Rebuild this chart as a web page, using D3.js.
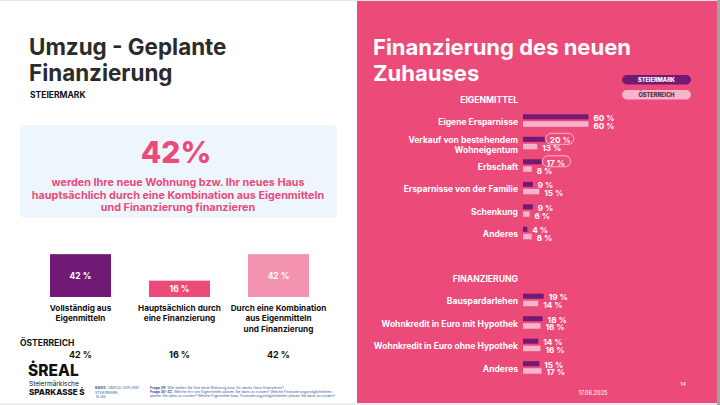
<!DOCTYPE html>
<html>
<head>
<meta charset="utf-8">
<script src="https://cdn.jsdelivr.net/npm/d3@7"></script>
<style>
  html, body { margin: 0; padding: 0; background: #fff; }
  svg { display: block; font-family: Inter, "Noto Sans", sans-serif; }
</style>
</head>
<body>
<svg id="chart" width="720" height="405"></svg>
<script>
// left panel: how the new home is financed
const shareCats = ["Vollständig aus\nEigenmitteln", "Hauptsächlich durch\neine Finanzierung", "Durch eine Kombination\naus Eigenmitteln\nund Finanzierung"];
const shareStmk = [42, 16, 42];
const shareOe = [42, 16, 42];
const shareColors = ["#701a75", "#ec4a79", "#f393b0"];

// right panel: Eigenmittel
const eigenCats = ["Eigene Ersparnisse", "Verkauf von bestehendem\nWohneigentum", "Erbschaft", "Ersparnisse von der Familie", "Schenkung", "Anderes"];
const eigenStmk = [60, 20, 17, 9, 9, 4];
const eigenOe = [60, 13, 8, 15, 6, 8];
const eigenMark = [false, true, true, false, false, false];

// right panel: Finanzierung
const finCats = ["Bauspardarlehen", "Wohnkredit in Euro mit Hypothek", "Wohnkredit in Euro ohne Hypothek", "Anderes"];
const finStmk = [19, 18, 14, 15];
const finOe = [14, 16, 16, 17];
const finMark = [false, false, false, false];

const PINK = "#ec4a79", PURPLE = "#701a75", LIGHT = "#f7b4cb", DARK = "#2b2b2b";

const svg = d3.select("#chart");

// backgrounds
svg.append("rect").attr("x", 357).attr("y", 0).attr("width", 363).attr("height", 405).attr("fill", PINK);
svg.append("rect").attr("x", 0).attr("y", 0).attr("width", 720).attr("height", 1).attr("fill", "#e6e6e6");
svg.append("rect").attr("x", 0).attr("y", 403).attr("width", 720).attr("height", 2).attr("fill", "#ececec");
svg.append("rect").attr("x", 717).attr("y", 0).attr("width", 3).attr("height", 405).attr("fill", "#a3a3a3");

function lines(sel, str, x, y, dy) {
  str.split("\n").forEach((t, i) => {
    sel.append("tspan").attr("x", x).attr("y", y + i * dy).text(t);
  });
}

// ---- left panel ----
const left = svg.append("g");
const t1 = left.append("text").attr("font-size", 22.4).attr("font-weight", 700).attr("fill", DARK);
lines(t1, "Umzug - Geplante\nFinanzierung", 29, 55, 25.5);
left.append("text").attr("x", 30).attr("y", 98).attr("font-size", 8.5).attr("font-weight", 700)
  .attr("fill", "#111").text("STEIERMARK");

left.append("rect").attr("x", 20).attr("y", 125).attr("width", 317).attr("height", 93).attr("rx", 5)
  .attr("fill", "#eef6fd");
left.append("text").attr("x", 176).attr("y", 163).attr("text-anchor", "middle").attr("font-size", 30)
  .attr("font-weight", 800).attr("fill", PINK).text(shareStmk[2] + "%");
const sub = left.append("text").attr("text-anchor", "middle").attr("font-size", 10.8).attr("font-weight", 700).attr("fill", PINK);
lines(sub, "werden Ihre neue Wohnung bzw. Ihr neues Haus\nhauptsächlich durch eine Kombination aus Eigenmitteln\nund Finanzierung finanzieren", 178, 186, 12.6);

const bx = d3.scaleBand().domain(d3.range(shareCats.length)).range([50, 309]).paddingInner(0.384).paddingOuter(0);
const bh = d3.scaleLinear().domain([0, 100]).range([0, 102]);
const base = 297;

const sb = left.selectAll("g.share").data(shareStmk).join("g").attr("class", "share");
sb.append("rect")
  .attr("x", (d, i) => bx(i)).attr("width", bx.bandwidth())
  .attr("y", d => base - bh(d)).attr("height", d => bh(d))
  .attr("fill", (d, i) => shareColors[i]);
sb.append("text")
  .attr("x", (d, i) => bx(i) + bx.bandwidth() / 2).attr("y", d => base - bh(d) / 2 + 3)
  .attr("text-anchor", "middle").attr("font-size", 8.5).attr("font-weight", 700).attr("fill", "#fff")
  .text(d => d + " %");
sb.each(function(d, i) {
  const t = d3.select(this).append("text").attr("text-anchor", "middle").attr("font-size", 8.2)
    .attr("font-weight", 700).attr("fill", "#111");
  lines(t, shareCats[i], bx(i) + bx.bandwidth() / 2, 310.5, 10.8);
});

left.append("text").attr("x", 20).attr("y", 346).attr("font-size", 8.5).attr("font-weight", 700)
  .attr("fill", "#111").text("ÖSTERREICH");
left.selectAll("text.oe").data(shareOe).join("text").attr("class", "oe")
  .attr("x", (d, i) => bx(i) + bx.bandwidth() / 2).attr("y", 358)
  .attr("text-anchor", "middle").attr("font-size", 9).attr("font-weight", 700).attr("fill", "#111")
  .text(d => d + " %");

// logo + footnotes
left.append("text").attr("x", 28).attr("y", 376).attr("font-size", 15.5).attr("font-weight", 800)
  .attr("fill", "#111").text("ṠREAL");
left.append("text").attr("x", 29).attr("y", 386).attr("font-size", 6.5).attr("fill", "#111").text("Steiermärkische");
left.append("text").attr("x", 29).attr("y", 394.5).attr("font-size", 8).attr("font-weight", 800)
  .attr("fill", "#111").text("SPARKASSE Ṡ");

const basis = left.append("text").attr("font-size", 3.6).attr("fill", "#3d5f93");
basis.append("tspan").attr("x", 95).attr("y", 389).attr("font-weight", 700).text("BASIS:");
basis.append("tspan").text(" UMZUG GEPLANT");
basis.append("tspan").attr("x", 95).attr("y", 393.5).text("STEIERMARK,");
basis.append("tspan").attr("x", 96).attr("y", 398).text("N=88");

const frage = left.append("text").attr("font-size", 3.6).attr("fill", "#3d5f93");
frage.append("tspan").attr("x", 150).attr("y", 389).attr("font-weight", 700).text("Frage 29:");
frage.append("tspan").text(" Wie wollen Sie Ihre neue Wohnung bzw. Ihr neues Haus finanzieren?");
frage.append("tspan").attr("x", 150).attr("y", 393).attr("font-weight", 700).text("Frage 30-32:");
frage.append("tspan").text(" Welche Art von Eigenmitteln planen Sie dann zu nutzen? Welche Finanzierungsmöglichkeiten");
frage.append("tspan").attr("x", 150).attr("y", 397).text("planen Sie dann zu nutzen? Welche Eigenmittel bzw. Finanzierungsmöglichkeiten planen Sie dann zu nutzen?");

// ---- right panel ----
const right = svg.append("g");
const t2 = right.append("text").attr("font-size", 22).attr("font-weight", 700).attr("fill", "#fff");
lines(t2, "Finanzierung des neuen\nZuhauses", 373, 55, 26);

// legend pills
[["STEIERMARK", PURPLE, "#fff", 75], ["ÖSTERREICH", LIGHT, "#4a2a3e", 90]].forEach(([lab, fill, col, y]) => {
  right.append("rect").attr("x", 622).attr("y", y).attr("width", 69).attr("height", 9.5).attr("rx", 4.75).attr("fill", fill);
  right.append("text").attr("x", 656.5).attr("y", y + 6.9).attr("text-anchor", "middle")
    .attr("font-size", 5.6).attr("font-weight", 800).attr("fill", col).text(lab);
});

const x = d3.scaleLinear().domain([0, 100]).range([523, 632]);
const labelRight = 518;

function group(title, titleY, cats, stmk, oe, mark, top) {
  right.append("text").attr("x", labelRight).attr("y", titleY).attr("text-anchor", "end")
    .attr("font-size", 8.6).attr("font-weight", 700).attr("fill", "#fff").text(title);
  const y = d3.scaleBand().domain(d3.range(cats.length)).range([top, top + 22.5 * cats.length]).padding(0);
  const g = right.selectAll(null).data(cats).join("g").attr("transform", (d, i) => `translate(0,${y(i)})`);
  g.append("rect").attr("x", x(0)).attr("y", 0).attr("height", 5).attr("width", (d, i) => x(stmk[i]) - x(0)).attr("fill", PURPLE);
  g.append("rect").attr("x", x(0)).attr("y", 7).attr("height", 5.5).attr("width", (d, i) => x(oe[i]) - x(0)).attr("fill", LIGHT);
  g.each(function(d, i) {
    const sel = d3.select(this);
    const parts = d.split("\n");
    const t = sel.append("text").attr("text-anchor", "end").attr("font-size", 8.5).attr("font-weight", 700).attr("fill", "#fff");
    if (parts.length > 1) lines(t, d, labelRight, 6, 10.6);
    else lines(t, d, labelRight, 10.6, 0);
    const vx = x(stmk[i]) + 5;
    if (mark[i]) {
      sel.append("rect").attr("x", vx - 4).attr("y", -3.5).attr("width", 28).attr("height", 11).attr("rx", 5.5)
        .attr("fill", "none").attr("stroke", "#fbd3e0").attr("stroke-width", 0.8);
    }
    sel.append("text").attr("x", vx).attr("y", 6.3).attr("font-size", 8.2).attr("font-weight", 700)
      .attr("fill", "#fff").text(stmk[i] + " %");
    sel.append("text").attr("x", x(oe[i]) + 5).attr("y", 14.3).attr("font-size", 8.2).attr("font-weight", 700)
      .attr("fill", "#fff").text(oe[i] + " %");
  });
}

group("EIGENMITTEL", 103, eigenCats, eigenStmk, eigenOe, eigenMark, 114.3);
group("FINANZIERUNG", 282, finCats, finStmk, finOe, finMark, 293.7);

right.append("text").attr("x", 683).attr("y", 386).attr("text-anchor", "middle").attr("font-size", 5)
  .attr("font-weight", 600).attr("fill", "#fde3ec").text("14");
right.append("text").attr("x", 593).attr("y", 395).attr("text-anchor", "middle").attr("font-size", 5.5)
  .attr("font-weight", 600).attr("fill", "#fde3ec").text("17.06.2025");
</script>
</body>
</html>
